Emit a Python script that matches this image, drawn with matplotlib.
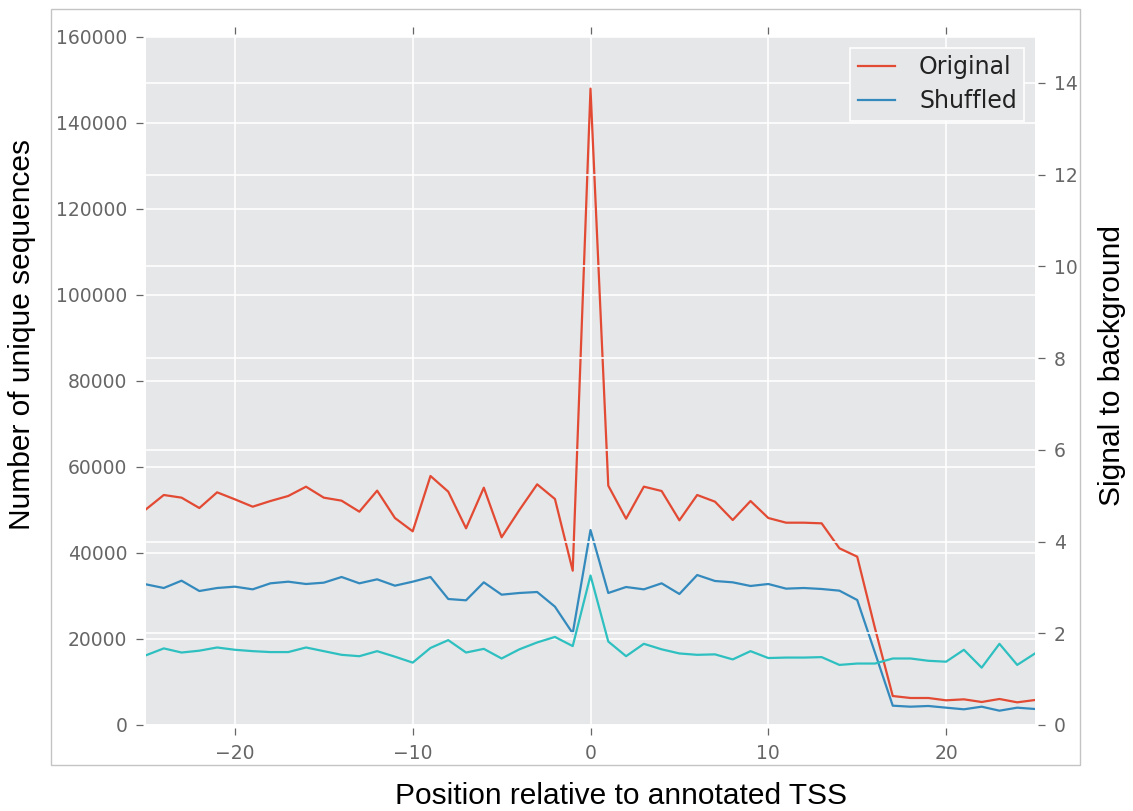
import matplotlib
matplotlib.use("Agg")
import matplotlib.pyplot as plt
from matplotlib.patches import Rectangle
import numpy as np

plt.style.use("ggplot")

positions = list(range(-25, 26))

original = [
    50160, 53490, 52870, 50460, 54110, 52480, 50770, 52090, 53260, 55420,
    52870, 52170, 49610, 54500, 48140, 45040, 57910, 54260, 45740, 55190,
    43650, 50000, 55970, 52560, 35890, 148000, 55660, 47980, 55430, 54420,
    47600, 53490, 51940, 47670, 52090, 48140, 47050, 47050, 46900, 41090,
    39150, 22500, 6740, 6280, 6280, 5740, 5970, 5350, 6050, 5270, 5810,
]

shuffled = [
    32710, 31860, 33560, 31160, 31860, 32170, 31550, 32950, 33330, 32790,
    33100, 34420, 32950, 33880, 32400, 33330, 34420, 29300, 29000, 33180,
    30310, 30700, 30930, 27520, 21320, 45350, 30700, 32090, 31550, 32950,
    30470, 34880, 33490, 33180, 32330, 32790, 31710, 31860, 31630, 31240,
    29070, 16820, 4490, 4260, 4420, 4030, 3650, 4260, 3330, 4030, 3720,
]

signal_to_background = [
    1.52, 1.67, 1.58, 1.62, 1.69, 1.64, 1.61, 1.59, 1.59, 1.69,
    1.61, 1.53, 1.50, 1.61, 1.49, 1.36, 1.68, 1.85, 1.58, 1.66,
    1.45, 1.65, 1.80, 1.92, 1.72, 3.26, 1.82, 1.50, 1.77, 1.65,
    1.56, 1.53, 1.54, 1.43, 1.61, 1.46, 1.47, 1.47, 1.48, 1.31,
    1.34, 1.34, 1.45, 1.45, 1.40, 1.38, 1.64, 1.25, 1.77, 1.31, 1.56,
]

left_ticks = [0, 20000, 40000, 60000, 80000, 100000, 120000, 140000, 160000]
right_ticks = [0, 2, 4, 6, 8, 10, 12, 14]
x_ticks = [-20, -10, 0, 10, 20]

W, H = 1133, 811
fig = plt.figure(figsize=(W / 100, H / 100), dpi=100, facecolor="white")

# figure frame around the axes and tick labels
fig.patches.append(Rectangle((51 / W, 1 - 765 / H), (1080 - 51) / W, (765 - 9) / H,
                             transform=fig.transFigure, fill=False,
                             edgecolor="#c4c4c4", linewidth=1.0, zorder=0))

ax = fig.add_axes([146 / W, 1 - 725 / H, (1035 - 146) / W, (725 - 37) / H])
ax.set_facecolor("#E6E7E9")
ax2 = ax.twinx()

ax.plot(positions, original, color="#E24A33", linewidth=1.6, label="Original")
ax.plot(positions, shuffled, color="#348ABD", linewidth=1.6, label="Shuffled")
ax2.plot(positions, signal_to_background, color="#2EC0C0", linewidth=1.6)

ax.set_xlim(-25, 25)
ax.set_ylim(0, 160000)
ax2.set_ylim(0, 15)
ax.set_xticks(x_ticks)
ax.set_yticks(left_ticks)
ax2.set_yticks(right_ticks)

tick_color = "#666666"
for a in (ax, ax2):
    for s in a.spines.values():
        s.set_visible(False)
        s.set_position(("outward", 2.5))
    a.grid(True, color="white", linewidth=1.2)
    a.set_axisbelow(True)
ax2.grid(True, axis="y", color="white", linewidth=1.2)
ax2.xaxis.grid(False)

ax.tick_params(axis="both", direction="out", length=5, width=0.9,
               color=tick_color, labelcolor=tick_color, labelsize=13.5, pad=6)
ax.tick_params(axis="x", top=True, labeltop=False, bottom=True)
ax2.tick_params(axis="y", direction="out", length=5, width=0.9,
                color=tick_color, labelcolor=tick_color, labelsize=13.5, pad=6)

leg = ax.legend(loc="upper right", fontsize=17, frameon=True, fancybox=False,
                handlelength=1.6, handletextpad=1.0, borderpad=0.32,
                labelspacing=0.42, borderaxespad=0.45)
leg.get_frame().set_facecolor("#E6E7E9")
leg.get_frame().set_edgecolor("white")
leg.get_frame().set_linewidth(1.2)
leg.get_frame().set_alpha(1)
for t in leg.get_texts():
    t.set_color("#222222")
leg.remove()
ax2.add_artist(leg)

label_font = dict(family="Liberation Sans", fontsize=21.5, color="black")
fig.text(621 / W, 1 - 796 / H, "Position relative to annotated TSS",
         ha="center", va="center", **label_font)
fig.text(22 / W, 1 - 334 / H, "Number of unique sequences",
         ha="center", va="center", rotation=90, **label_font)
fig.text(1112 / W, 1 - 365 / H, "Signal to background",
         ha="center", va="center", rotation=90, **label_font)

fig.savefig("out.png", dpi=100, facecolor="white")
